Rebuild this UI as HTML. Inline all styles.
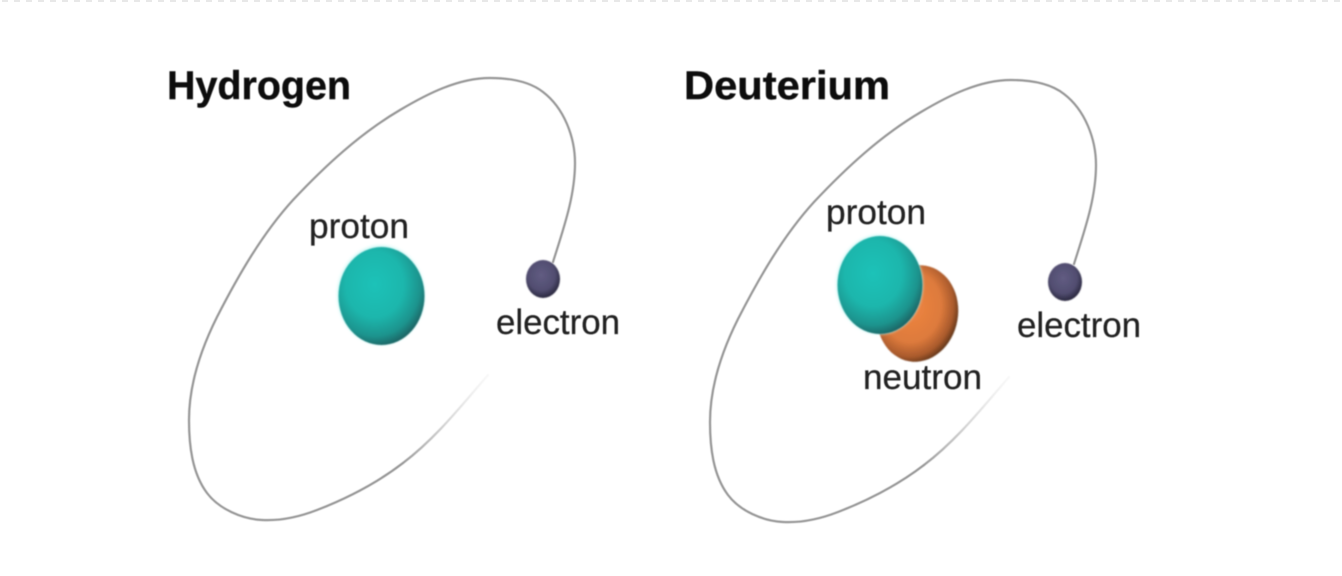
<!DOCTYPE html>
<html>
<head>
<meta charset="utf-8">
<style>
html,body{margin:0;padding:0;background:#fff;width:1342px;height:576px;overflow:hidden}
svg{display:block}
text{font-family:"Liberation Sans",sans-serif}
.l{font-size:35px;fill:#222;stroke:#222;stroke-width:.25}
.t{font-size:40px;font-weight:bold;fill:#0c0c0c;stroke:#0c0c0c;stroke-width:.4}
</style>
</head>
<body>
<svg width="1342" height="576" viewBox="0 0 1342 576" xmlns="http://www.w3.org/2000/svg">
<defs>
<filter id="b" x="-10%" y="-10%" width="120%" height="120%"><feGaussianBlur stdDeviation="0.6"/></filter>
<filter id="s" x="-10%" y="-10%" width="120%" height="120%"><feGaussianBlur stdDeviation="0.8"/></filter>
<filter id="g" x="-20%" y="-20%" width="140%" height="140%"><feGaussianBlur stdDeviation="1.5"/></filter>
<radialGradient id="teal" cx="0.42" cy="0.38" r="0.68">
<stop offset="0" stop-color="#1cc2b8"/><stop offset="0.5" stop-color="#1cb6ac"/><stop offset="0.78" stop-color="#1f938d"/><stop offset="1" stop-color="#1c5355"/>
</radialGradient>
<radialGradient id="orange" cx="0.42" cy="0.45" r="0.6">
<stop offset="0" stop-color="#ee8540"/><stop offset="0.6" stop-color="#dd7a3c"/><stop offset="0.85" stop-color="#a95a2c"/><stop offset="1" stop-color="#5c3318"/>
</radialGradient>
<radialGradient id="purple" cx="0.45" cy="0.4" r="0.62">
<stop offset="0" stop-color="#615c82"/><stop offset="0.65" stop-color="#514d70"/><stop offset="1" stop-color="#26243a"/>
</radialGradient>
<linearGradient id="f1" gradientUnits="userSpaceOnUse" x1="403" y1="463" x2="488" y2="375">
<stop offset="0" stop-color="#999"/><stop offset="1" stop-color="#ddd" stop-opacity="0.2"/>
</linearGradient>
<path id="orb" d="M553 262 C563 230 575 197 575 163 C575 137 564 108 543 92 C529 81 508 78 490 78 C458 78 427 94 400 110 C360 133.500 325 166 293 200 C262 234 238 276 217 317 C201 349 189 384 189 420 C189 445 192 473 207 493 C219 509 242 519 262 520 C281 521 299 517 317 510 C348 498 377 483 403 463"/>
<path id="orbEnd" d="M403 463 C436 438 461 406 488 375"/>
</defs>

<rect width="1342" height="576" fill="#fff"/>
<line x1="0" y1="1" x2="1342" y2="1" stroke="#e8e8e8" stroke-width="2" stroke-dasharray="6 6" transform="translate(2 0)"/>

<!-- Hydrogen orbit -->
<g fill="none" stroke-width="2.200" stroke-linecap="round" filter="url(#b)">
<use href="#orb" stroke="#969696"/>
<use href="#orbEnd" stroke="url(#f1)"/>
</g>

<!-- Deuterium orbit -->
<g fill="none" stroke-width="2.200" stroke-linecap="round" filter="url(#b)" transform="translate(521 2)">
<use href="#orb" stroke="#969696"/>
<use href="#orbEnd" stroke="url(#f1)"/>
</g>

<!-- Hydrogen nucleus -->
<ellipse cx="381" cy="295" rx="43.500" ry="49.500" fill="#c8f7f4" filter="url(#g)"/>
<ellipse cx="381.500" cy="296" rx="43" ry="49" fill="url(#teal)" filter="url(#s)"/>
<ellipse cx="543" cy="279" rx="17" ry="19" fill="url(#purple)" filter="url(#s)"/>

<!-- Deuterium nucleus -->
<ellipse cx="917.500" cy="313.500" rx="40.500" ry="48.500" transform="rotate(10 917.500 313.500)" fill="url(#orange)" filter="url(#s)"/>
<ellipse cx="879.500" cy="284.500" rx="43" ry="49.500" fill="#c8f7f4" filter="url(#g)"/>
<ellipse cx="880" cy="285" rx="42.500" ry="49" fill="url(#teal)" filter="url(#s)"/>
<ellipse cx="1065" cy="282" rx="17" ry="19" fill="url(#purple)" filter="url(#s)"/>

<!-- Labels -->
<g filter="url(#b)">
<text class="t" x="167" y="99" textLength="184" lengthAdjust="spacingAndGlyphs">Hydrogen</text>
<text class="t" x="684" y="99" textLength="206" lengthAdjust="spacingAndGlyphs">Deuterium</text>
<text class="l" x="309" y="238" textLength="100" lengthAdjust="spacingAndGlyphs">proton</text>
<text class="l" x="496" y="334" textLength="124" lengthAdjust="spacingAndGlyphs">electron</text>
<text class="l" x="826" y="224" textLength="100" lengthAdjust="spacingAndGlyphs">proton</text>
<text class="l" x="1017" y="337" textLength="124" lengthAdjust="spacingAndGlyphs">electron</text>
<text class="l" x="863" y="389" textLength="119" lengthAdjust="spacingAndGlyphs">neutron</text>
</g>
</svg>
</body>
</html>
